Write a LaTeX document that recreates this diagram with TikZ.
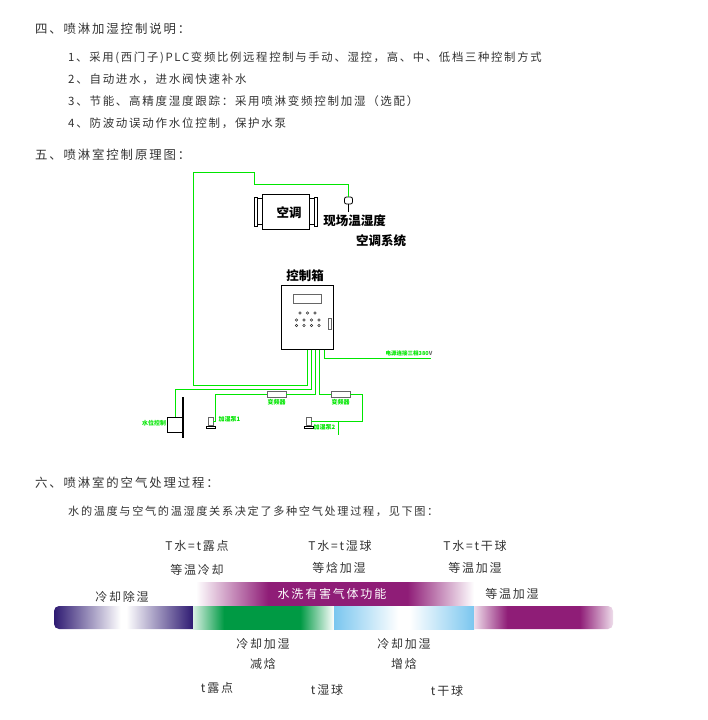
\documentclass[tikz,border=0pt]{standalone}
\usepackage{fontspec}
\usepackage{xcolor}
\usepackage{tikz}
\usetikzlibrary{positioning}
\newfontfamily\cjk[LetterSpace=15]{Noto Sans CJK SC}
\newfontfamily\cjkplain{Noto Sans CJK SC}
\definecolor{wiregreen}{HTML}{00E600}
\definecolor{textgray}{HTML}{333333}
\definecolor{bandindigo}{HTML}{2E1A72}
\definecolor{bandgreen}{HTML}{009A44}
\definecolor{bandblue}{HTML}{7AC6EF}
\definecolor{bandpurple}{HTML}{8F1D77}
% the middle 25bp--75bp of each shading covers the path's width
\pgfdeclarehorizontalshading{indigoband}{100bp}{color(0bp)=(bandindigo); color(25bp)=(bandindigo); color(49bp)=(white); color(51bp)=(white); color(75bp)=(bandindigo); color(100bp)=(bandindigo)}
\pgfdeclarehorizontalshading{greenband}{100bp}{color(0bp)=(bandgreen!15); color(25bp)=(bandgreen!15); color(36bp)=(bandgreen); color(63bp)=(bandgreen); color(75bp)=(white); color(100bp)=(white)}
\pgfdeclarehorizontalshading{blueband}{100bp}{color(0bp)=(bandblue); color(25bp)=(bandblue); color(48bp)=(white); color(52bp)=(white); color(75bp)=(bandblue); color(100bp)=(bandblue)}
\pgfdeclarehorizontalshading{purpleband}{100bp}{color(0bp)=(bandpurple!15); color(25bp)=(bandpurple!15); color(37bp)=(bandpurple); color(63bp)=(bandpurple); color(75bp)=(bandpurple!15); color(100bp)=(bandpurple!15)}
\pgfdeclarehorizontalshading{washband}{100bp}{color(0bp)=(white); color(25bp)=(white); color(38bp)=(bandpurple); color(63bp)=(bandpurple); color(75bp)=(white); color(100bp)=(white)}

\begin{document}
\begin{tikzpicture}[
    x=1pt, y=-1pt,
    heading/.style={anchor=west, inner sep=0pt, text=textgray, font=\cjk\fontsize{12.4}{14}\selectfont},
    item/.style={anchor=west, inner sep=0pt, text=textgray, font=\cjk\fontsize{11.5}{13}\selectfont},
    bandlabel/.style={inner sep=0pt, text=textgray, font=\cjk\fontsize{12}{14}\selectfont},
    devlabel/.style={inner sep=0pt, font=\cjkplain\bfseries\fontsize{12.5}{14}\selectfont},
    taglabel/.style={inner sep=0pt, text=wiregreen, font=\cjkplain\bfseries\fontsize{6}{7}\selectfont},
    wire/.style={draw=wiregreen, line width=1pt},
    unit/.style={rectangle, draw=black, line width=0.8pt, fill=white, inner sep=0pt},
    panelpart/.style={rectangle, draw=black!60, line width=0.7pt, fill=white, inner sep=0pt},
    knob/.style={circle, draw=black!80, line width=0.5pt, inner sep=0pt, minimum size=2.6pt}
]
\useasboundingbox (0,0) rectangle (708,720);

% 1. Text blocks
\node[heading] (headfour) at (35,29) {四、喷淋加湿控制说明：};
\node[item, font=\cjk\fontsize{11.35}{13}\selectfont] (itemone) at (68,58) {1、采用(西门子)PLC变频比例远程控制与手动、湿控，高、中、低档三种控制方式};
\node[item] (itemtwo) at (68,79) {2、自动进水，进水阀快速补水};
\node[item] (itemthree) at (68,101) {3、节能、高精度湿度跟踪：采用喷淋变频控制加湿（选配）};
\node[item] (itemfour) at (68,123) {4、防波动误动作水位控制，保护水泵};
\node[heading] (headfive) at (35,155) {五、喷淋室控制原理图：};
\node[heading] (headsix) at (35,483) {六、喷淋室的空气处理过程：};
\node[item, font=\cjk\fontsize{11.15}{13}\selectfont] (itemwater) at (68,511) {水的温度与空气的温湿度关系决定了多种空气处理过程，见下图：};

% 2. Air unit and sensor
\node[unit, minimum width=47pt, minimum height=35pt] (acunit) at (285.5,211.5) {};
\node[unit, minimum width=3pt, minimum height=29pt] (flangeleft) at (255.5,211.5) {};
\node[unit, minimum width=3pt, minimum height=29pt] (flangeright) at (315.5,211.5) {};
\draw[line width=0.6pt] (flangeleft.east |- 0,198) -- (acunit.west |- 0,198);
\draw[line width=0.6pt] (flangeleft.east |- 0,224) -- (acunit.west |- 0,224);
\draw[line width=0.6pt] (acunit.east |- 0,198) -- (flangeright.west |- 0,198);
\draw[line width=0.6pt] (acunit.east |- 0,224) -- (flangeright.west |- 0,224);
\node[unit, rounded corners=2pt, minimum width=8pt, minimum height=7pt] (sensor) at (348.5,200.5) {};
\coordinate (sensorend) at (348.5,212);
\draw[line width=1.2pt] (sensor.south) -- (sensorend);
\node[devlabel] (aclabel) at (289,212.5) {空调};
\node[devlabel] (sensorlabel) at (354.5,221) {现场温湿度};
\node[devlabel] (systemlabel) at (381,241) {空调系统};
\node[devlabel] (boxlabel) at (305,276) {控制箱};

% 3. Control box
\node[unit, minimum width=52pt, minimum height=64pt] (ctrlbox) at (307.5,317.5) {};
\node[panelpart, minimum width=28pt, minimum height=9pt] (screen) at (307.5,298.5) {};
\node[panelpart, minimum width=3pt, minimum height=11pt] (handle) at (329.5,323.5) {};
\foreach \px in {300,307.5,315}
    \node[knob] at (\px,313) {};
\foreach \py in {320,325.5}
    \foreach \px in {296.5,304,311.5,319}
        \node[knob] at (\px,\py) {};

% 4. Field devices
\node[panelpart, minimum width=19pt, minimum height=6pt] (valveone) at (276.5,394) {};
\node[panelpart, minimum width=19pt, minimum height=6pt] (valvetwo) at (340.5,394) {};
\node[unit, minimum width=16pt, minimum height=15pt] (tank) at (175,424.5) {};
\coordinate (bartop) at (183,397);
\coordinate (barend) at (183,437.5);
\draw[line width=1.4pt] (bartop) -- (barend);
\node[panelpart, minimum width=5pt, minimum height=7.5pt] (pumpone) at (210.5,421.5) {};
\node[unit, minimum width=9pt, minimum height=2pt, below=0pt of pumpone] (baseone) {};
\node[panelpart, minimum width=5pt, minimum height=7.5pt] (pumptwo) at (308.5,421.5) {};
\node[unit, minimum width=9pt, minimum height=2pt, below=0pt of pumptwo] (basetwo) {};
\node[taglabel, below=2pt of valveone] (tagvalveone) {变频器};
\node[taglabel, below=2pt of valvetwo] (tagvalvetwo) {变频器};
\node[taglabel] (tagtank) at (154,423) {水位控制};
\node[taglabel] (tagpumpone) at (229.5,419) {加湿泵1};
\node[taglabel] (tagpumptwo) at (324.5,427) {加湿泵2};
\node[inner sep=0pt, font=\cjkplain\bfseries\fontsize{5.5}{7}\selectfont] (tagpower) at (409,353) {\textcolor{wiregreen}{电源连接三相380}\textcolor{black!60}{V}};

% 5. Wires, left to right along the bottom of the box
\coordinate (portloop) at (307.5,349.5);
\coordinate (porttank) at (311.5,349.5);
\coordinate (portone) at (315.5,349.5);
\coordinate (porttwo) at (319.5,349.5);
\coordinate (portpower) at (324.5,349.5);
\coordinate (powerend) at (431,358);
\coordinate (tailend) at (338,435);
\draw[wire] (portloop) |- (193.5,385.5) |- (254.5,172.5) |- (348.5,184.5) -- (sensor.north);
\draw[wire] (porttank) |- (175,389.5) -- (tank.north);
\draw[wire] (portone) |- (valveone.east);
\draw[wire] (valveone.west) -| (215.5,421.5) -- (pumpone.east);
\draw[wire] (porttwo) |- (valvetwo.west);
\draw[wire] (valvetwo.east) -| (362.5,421.5) -- (pumptwo.east);
\draw[wire] (338,421.5) -- (tailend);
\draw[wire] (portpower) |- (powerend);

% 6. Colour bands
\shade[shading=washband] (196,582) rectangle (474,606);
\shade[shading=indigoband] (193,606) -- (193,629) [rounded corners=5pt] -- (54,629) -- (54,606) [sharp corners] -- cycle;
\shade[shading=greenband] (193,606) rectangle (334,629);
\shade[shading=blueband] (334,606) rectangle (474,629);
\shade[shading=purpleband] (474,606) [rounded corners=5pt] -- (613,606) -- (613,629) [sharp corners] -- (474,629) -- cycle;

% 7. Band labels
\node[bandlabel] (waterdew) at (197,546) {T水=t露点};
\node[bandlabel] (waterwet) at (340,546) {T水=t湿球};
\node[bandlabel] (waterdry) at (475,546) {T水=t干球};
\node[bandlabel] (isocool) at (197,570) {等温冷却};
\node[bandlabel] (isoenth) at (339,568) {等焓加湿};
\node[bandlabel] (isohumid) at (475,568) {等温加湿};
\node[bandlabel] (dehumid) at (122,597) {冷却除湿};
\node[bandlabel] (sidehumid) at (512,594) {等温加湿};
\node[bandlabel, text=white] (washlabel) at (332,594) {水洗有害气体功能};
\node[bandlabel] (coolone) at (263,644) {冷却加湿};
\node[bandlabel] (enthdown) at (263,664) {减焓};
\node[bandlabel] (cooltwo) at (404,644) {冷却加湿};
\node[bandlabel] (enthup) at (404,664) {增焓};
\node[bandlabel] (tdew) at (217,688) {t露点};
\node[bandlabel] (twet) at (327,690) {t湿球};
\node[bandlabel] (tdry) at (447,691) {t干球};

\end{tikzpicture}
\end{document}
